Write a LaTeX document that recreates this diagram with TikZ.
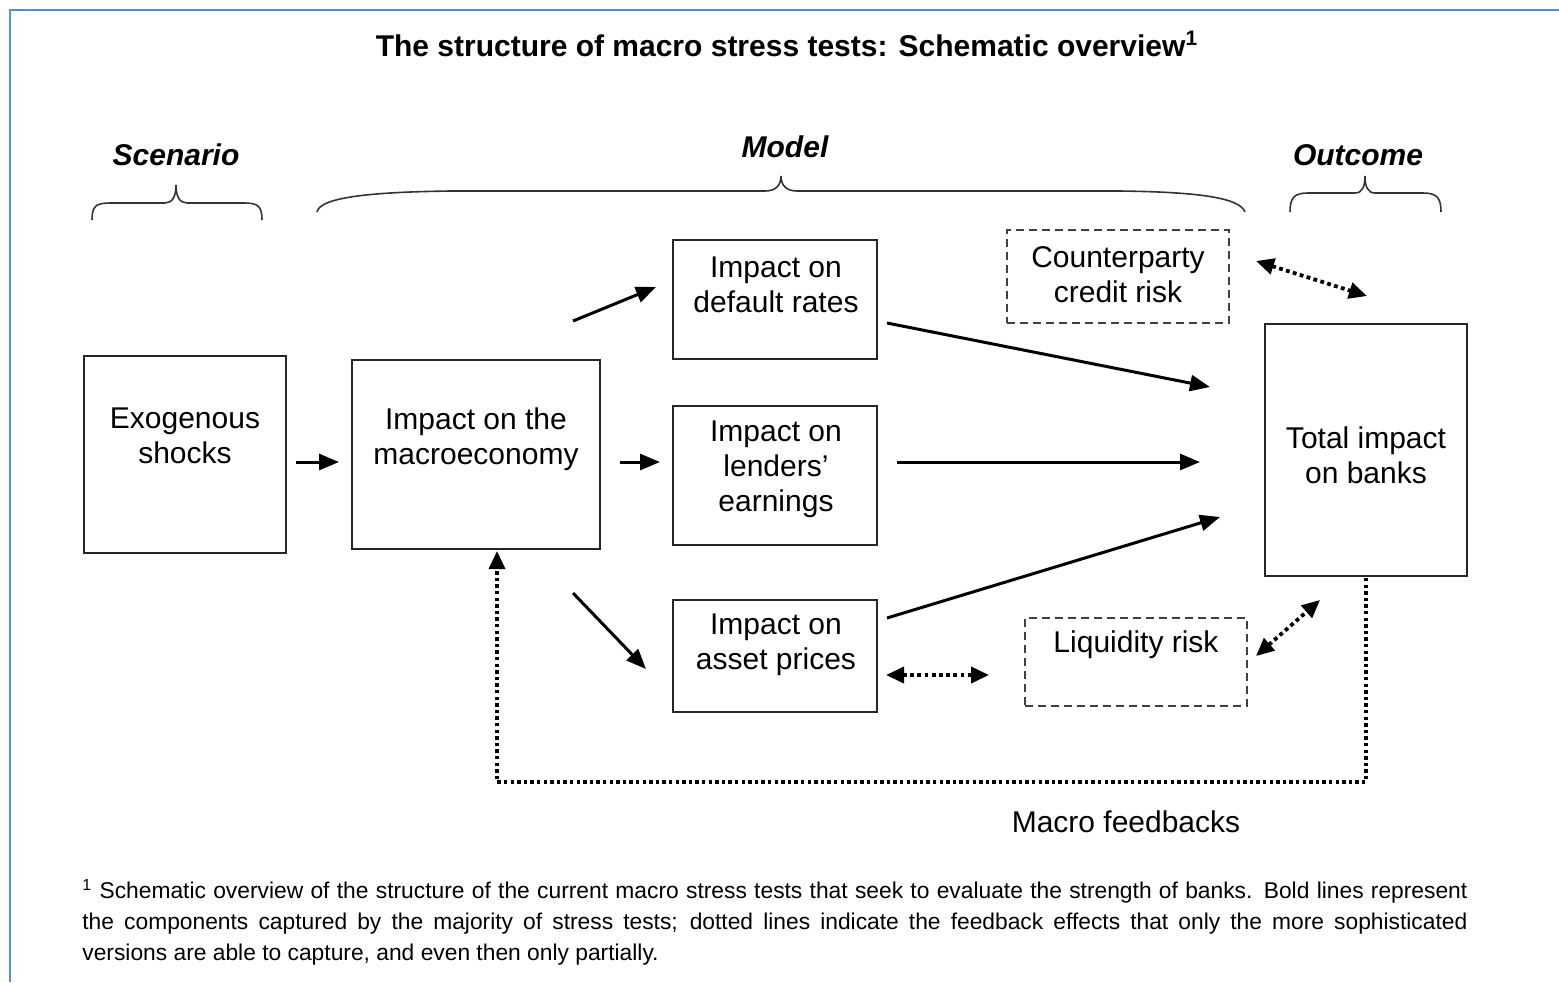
\documentclass[tikz,border=0pt]{standalone}
\usepackage{fontspec}
\setmainfont{Liberation Sans}
\usetikzlibrary{arrows.meta}
\begin{document}
\begin{tikzpicture}[x=0.5pt,y=-0.5pt,
 box/.style={draw=black!85, line width=0.9pt, inner sep=0pt},
 dbox/.style={draw=black!75, line width=0.9pt, dash pattern=on 4pt off 2.5pt, inner sep=0pt},
 lbl/.style={align=center, font=\fontsize{15}{17.5}\selectfont, inner sep=0pt},
 boldarrow/.style={line width=1.5pt, -{Triangle[length=10pt,width=8pt]}},
 fbarrow/.style={line width=1.9pt, dash pattern=on 1.9pt off 1.7pt, {Triangle[length=9pt,width=8pt]}-{Triangle[length=9pt,width=8pt]}},
 bracestyle/.style={line width=0.8pt, draw=black!80},
 hdr/.style={font=\fontsize{15}{17}\selectfont\bfseries\itshape, inner sep=0pt}]
\useasboundingbox (0,0) rectangle (1559,982);
\fill[white] (0,0) rectangle (1559,982);
\draw[line width=1pt, color={rgb,255:red,90;green,140;blue,210}] (10,982) -- (10,10) -- (1559,10);

% title
\node[font=\fontsize{15}{17}\selectfont\bfseries, inner sep=0pt] (title) at (787,44) {The structure of macro stress tests: Schematic overview\textsuperscript{1}};

% headers
\node[hdr] (hscen) at (176,155) {Scenario};
\node[hdr] (hmodel) at (785,147) {Model};
\node[hdr] (hout) at (1358,155) {Outcome};

% braces
\draw[bracestyle] (92,220) .. controls (92,206) and (96,203) .. (110,203) -- (165,203) .. controls (172,203) and (176,197) .. (176,185) .. controls (176,197) and (180,203) .. (187,203) -- (244,203) .. controls (258,203) and (262,206) .. (262,220);
\draw[bracestyle] (317,212) .. controls (320,196) and (380,192) .. (450,191) -- (765,191) .. controls (775,191) and (781,186) .. (781,176) .. controls (781,186) and (787,191) .. (797,191) -- (1120,191) .. controls (1200,192) and (1240,198) .. (1245,212);
\draw[bracestyle] (1290,212) .. controls (1290,198) and (1294,193) .. (1308,193) -- (1355,193) .. controls (1362,193) and (1365,187) .. (1365,176) .. controls (1365,187) and (1368,193) .. (1375,193) -- (1423,193) .. controls (1437,193) and (1441,198) .. (1441,212);

% boxes
\node[box, minimum width=101pt, minimum height=98.5pt] (exo) at (185,454.5) {};
\node[box, minimum width=124pt, minimum height=94.5pt] (macro) at (476,454.5) {};
\node[box, minimum width=102pt, minimum height=59.5pt] (default) at (775,299.5) {};
\node[box, minimum width=102pt, minimum height=69.5pt] (earn) at (775,475.5) {};
\node[box, minimum width=102pt, minimum height=56pt] (asset) at (775,656) {};
\node[dbox, minimum width=111pt, minimum height=46.5pt] (cpty) at (1118,276.5) {};
\node[dbox, minimum width=111pt, minimum height=44pt] (liq) at (1136,662) {};
\node[box, minimum width=101pt, minimum height=126pt] (total) at (1366,450) {};

% texts
\node[lbl] (texo) at (185,436) {Exogenous\\shocks};
\node[lbl] (tmacro) at (476,439) {Impact on the\\macroeconomy};
\node[lbl] (tdefault) at (776,285) {Impact on\\default rates};
\node[lbl] (tearn) at (776,469) {Impact on\\lenders'\\earnings};
\node[lbl] (tasset) at (776,645) {Impact on\\asset prices};
\node[lbl] (tcpty) at (1118,275) {Counterparty\\credit risk};
\node[lbl] (tliq) at (1136,645) {Liquidity risk};
\node[lbl] (ttotal) at (1366,455) {Total impact\\on banks};
\node[lbl] (tfeed) at (1126,822) {Macro feedbacks};

% arrow end points
\coordinate (a1s) at (296,462); \coordinate (a1e) at (339,462);
\coordinate (a2s) at (573,321); \coordinate (a2e) at (656,287);
\coordinate (a3s) at (620,462); \coordinate (a3e) at (660,462);
\coordinate (a4s) at (573,593); \coordinate (a4e) at (646,669);
\coordinate (a5s) at (887,323); \coordinate (a5e) at (1210,387);
\coordinate (a6s) at (897,462); \coordinate (a6e) at (1200,462);
\coordinate (a7s) at (887,618); \coordinate (a7e) at (1220,517);
\coordinate (d1s) at (1256,261); \coordinate (d1e) at (1367,296);
\coordinate (d2s) at (1256,656); \coordinate (d2e) at (1320,600);
\coordinate (d3s) at (886,675); \coordinate (d3e) at (989,675);
\coordinate (fbs) at (1366,578); \coordinate (fbc1) at (1366,782); \coordinate (fbc2) at (497,782); \coordinate (fbe) at (497,551);

\draw[boldarrow] (a1s) -- (a1e);
\draw[boldarrow] (a2s) -- (a2e);
\draw[boldarrow] (a3s) -- (a3e);
\draw[boldarrow] (a4s) -- (a4e);
\draw[boldarrow] (a5s) -- (a5e);
\draw[boldarrow] (a6s) -- (a6e);
\draw[boldarrow] (a7s) -- (a7e);
\draw[fbarrow] (d1s) -- (d1e);
\draw[fbarrow] (d2s) -- (d2e);
\draw[fbarrow] (d3s) -- (d3e);
\draw[line width=1.7pt, dash pattern=on 1.7pt off 1.6pt, -{Triangle[length=9pt,width=8pt]}] (fbs) -- (fbc1) -- (fbc2) -- (fbe);

% footnote
\node[anchor=north west, inner sep=0pt, text width=692.5pt, align=justify, font=\fontsize{11.4}{15.5}\selectfont] (foot) at (82,879) {\textsuperscript{1} Schematic overview of the structure of the current macro stress tests that seek to evaluate the strength of banks. Bold lines represent\linebreak the components captured by the majority of stress tests; dotted lines indicate the feedback effects that only the more sophisticated\linebreak versions are able to capture, and even then only partially.};
\end{tikzpicture}
\end{document}
